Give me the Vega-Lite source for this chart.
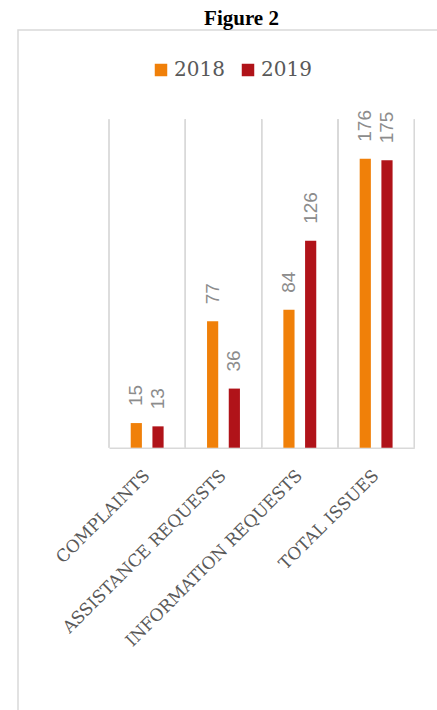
{
  "$schema": "https://vega.github.io/schema/vega-lite/v6.json",
  "width": 425,
  "height": 690,
  "autosize": {"type": "none"},
  "padding": {"left": 18, "top": 30, "right": -6, "bottom": -10},
  "background": "white",
  "title": {
    "text": "Figure 2",
    "font": "Liberation Serif",
    "fontWeight": "bold",
    "fontSize": 21,
    "color": "#000000",
    "anchor": "middle",
    "dx": 11,
    "dy": 21,
    "offset": 5,
    "baseline": "alphabetic"
  },
  "data": {
    "values": [
      {"category": "COMPLAINTS", "year": "2018", "value": 15},
      {"category": "COMPLAINTS", "year": "2019", "value": 13},
      {"category": "ASSISTANCE REQUESTS", "year": "2018", "value": 77},
      {"category": "ASSISTANCE REQUESTS", "year": "2019", "value": 36},
      {"category": "INFORMATION REQUESTS", "year": "2018", "value": 84},
      {"category": "INFORMATION REQUESTS", "year": "2019", "value": 126},
      {"category": "TOTAL ISSUES", "year": "2018", "value": 176},
      {"category": "TOTAL ISSUES", "year": "2019", "value": 175}
    ]
  },
  "config": {
    "view": {"stroke": "#d9d9d9", "strokeWidth": 1.5}
  },
  "resolve": {"scale": {"x": "independent"}, "axis": {"x": "independent"}},
  "layer": [
    {
      "layer": [
        {
          "mark": {"type": "rule", "color": "#d9d9d9", "strokeWidth": 1.3},
          "encoding": {
            "x": {
              "field": "category",
              "type": "nominal",
              "bandPosition": 0,
              "sort": ["COMPLAINTS", "ASSISTANCE REQUESTS", "INFORMATION REQUESTS", "TOTAL ISSUES"],
              "scale": {"range": [91, 396.3], "paddingInner": 0, "paddingOuter": 0},
              "axis": null
            },
            "y": {"datum": 0, "type": "quantitative"},
            "y2": {"datum": 200}
          }
        },
        {
          "mark": {"type": "rule", "color": "#d9d9d9", "strokeWidth": 1.3},
          "encoding": {
            "x": {
              "field": "category",
              "type": "nominal",
              "bandPosition": 1,
              "sort": ["COMPLAINTS", "ASSISTANCE REQUESTS", "INFORMATION REQUESTS", "TOTAL ISSUES"],
              "axis": null
            },
            "y": {"datum": 0, "type": "quantitative"},
            "y2": {"datum": 200}
          }
        }
      ]
    },
    {
      "layer": [
        {
          "mark": {"type": "bar"},
          "encoding": {
            "x": {
              "field": "category",
              "type": "nominal",
              "sort": ["COMPLAINTS", "ASSISTANCE REQUESTS", "INFORMATION REQUESTS", "TOTAL ISSUES"],
              "scale": {"range": [91, 396.3], "paddingInner": 0, "paddingOuter": 0},
              "axis": {
                "title": null,
                "orient": "bottom",
                "offset": -272.3,
                "domainColor": "#d9d9d9",
                "domainWidth": 1.5,
                "ticks": false,
                "grid": false,
                "labelAngle": -45,
                "labelAlign": "right",
                "labelBaseline": "middle",
                "labelFont": "DejaVu Serif",
                "labelFontSize": 17,
                "labelColor": "#595959",
                "labelPadding": 25,
                "labelLimit": 0
              }
            },
            "xOffset": {
              "field": "year",
              "type": "nominal",
              "scale": {"paddingInner": 0.485, "paddingOuter": 1.15}
            },
            "y": {
              "field": "value",
              "type": "quantitative",
              "axis": null,
              "scale": {"domain": [0, 200], "range": [417.7, 89.3], "nice": false}
            },
            "color": {
              "field": "year",
              "type": "nominal",
              "scale": {"domain": ["2018", "2019"], "range": ["#F08009", "#B01319"]},
              "legend": {
                "title": null,
                "orient": "none",
                "legendX": 133,
                "legendY": 30,
                "direction": "horizontal",
                "symbolType": "square",
                "symbolSize": 156,
                "symbolStrokeWidth": 0,
                "labelFont": "DejaVu Serif",
                "labelFontSize": 20,
                "labelColor": "#595959",
                "labelOffset": 3,
                "columnPadding": 13,
                "padding": 0
              }
            }
          }
        },
        {
          "mark": {
            "type": "text",
            "angle": 270,
            "align": "left",
            "baseline": "middle",
            "dx": 17,
            "font": "Liberation Sans",
            "fontSize": 19,
            "color": "#8c8c8c"
          },
          "encoding": {
            "x": {
              "field": "category",
              "type": "nominal",
              "sort": ["COMPLAINTS", "ASSISTANCE REQUESTS", "INFORMATION REQUESTS", "TOTAL ISSUES"]
            },
            "xOffset": {"field": "year", "type": "nominal"},
            "y": {"field": "value", "type": "quantitative"},
            "text": {"field": "value", "type": "quantitative"}
          }
        }
      ]
    }
  ]
}
